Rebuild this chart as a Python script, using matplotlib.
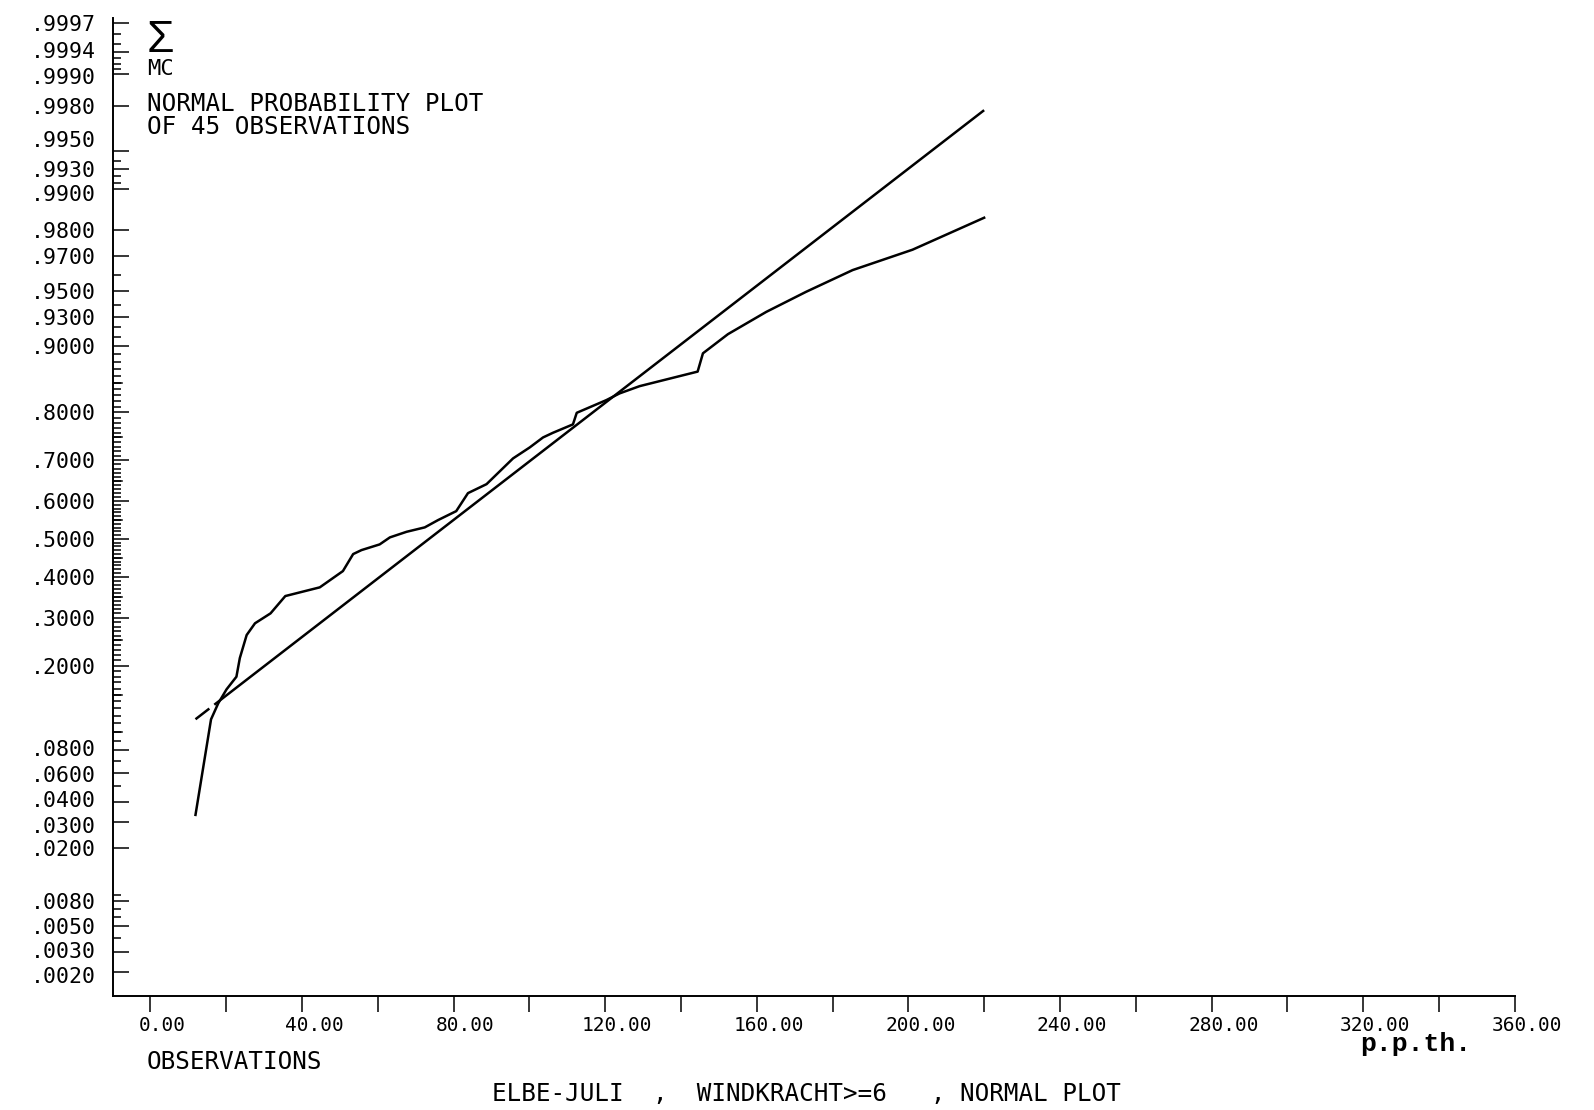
import numpy as np
import matplotlib
matplotlib.use("Agg")
import matplotlib.pyplot as plt
import matplotlib.transforms as mtransforms
from statistics import NormalDist

# cumulative frequency curve (observation value, cumulative probability)
obs_x = [11.9, 16.0, 17.9, 20.1, 22.7, 23.6, 25.4, 27.6, 31.7, 35.6,
         44.7, 50.8, 53.5, 55.7, 60.5, 63.2, 67.6, 72.4, 75.9, 80.7,
         83.8, 88.7, 95.7, 100.1, 103.6, 106.2, 111.5, 112.5, 120.3, 123.8,
         129.1, 144.4, 145.8, 152.4, 162.5, 173.0, 185.3, 201.1, 220.0]
obs_p = [0.0333, 0.1152, 0.1372, 0.1587, 0.1798, 0.2142, 0.2614, 0.2874, 0.3103, 0.3520,
         0.3737, 0.4153, 0.4598, 0.4703, 0.4854, 0.5040, 0.5188, 0.5305, 0.5497, 0.5732,
         0.6195, 0.6420, 0.7037, 0.7284, 0.7499, 0.7596, 0.7767, 0.7990, 0.8218, 0.8332,
         0.8450, 0.8669, 0.8913, 0.9132, 0.9343, 0.9497, 0.9630, 0.9727, 0.9836]

# fitted normal line, end points
fit_x = [11.9, 220.0]
fit_p = [0.1153, 0.99781]

ytick_p = [0.9997, 0.9994, 0.9990, 0.9980, 0.9950, 0.9930, 0.9900, 0.9800, 0.9700,
           0.9500, 0.9300, 0.9000, 0.8000, 0.7000, 0.6000, 0.5000, 0.4000, 0.3000,
           0.2000, 0.0800, 0.0600, 0.0400, 0.0300, 0.0200, 0.0080, 0.0050, 0.0030, 0.0020]
ymid_p = [0.10, 0.15, 0.25, 0.35, 0.45, 0.55, 0.65, 0.75, 0.85]
yminor_p = ([0.9991, 0.9992, 0.9993, 0.9995, 0.9996, 0.991, 0.992, 0.994, 0.91, 0.92, 0.94, 0.96]
            + [round(0.11 + 0.01 * i, 2) for i in range(79)]
            + [0.09, 0.07, 0.05, 0.009, 0.007, 0.006, 0.004])
yminor_p = [p for p in yminor_p if p not in ytick_p and p not in ymid_p]

xtick_vals = [0, 40, 80, 120, 160, 200, 240, 280, 320, 360]
xminor_vals = [20, 60, 100, 140, 180, 220, 260, 300, 340]

nd = NormalDist()
_ppf = np.vectorize(lambda p: nd.inv_cdf(min(max(p, 1e-9), 1 - 1e-9)), otypes=[float])
_cdf = np.vectorize(lambda z: nd.cdf(z), otypes=[float])


def probit(p):
    return _ppf(np.asarray(p, dtype=float))


def inv_probit(z):
    return _cdf(np.asarray(z, dtype=float))


W, H = 1594, 1110
fig = plt.figure(figsize=(W / 100, H / 100), dpi=100)
ax = fig.add_axes([112.5 / W, 1 - 996 / H, (1514.7 - 112.5) / W, (996 - 18.3) / H])
ax.set_yscale("function", functions=(probit, inv_probit))

ax.plot(obs_x, obs_p, color="black", lw=1.8, solid_joinstyle="round")
# plotter pen skips once near the start of the fitted line
ax.plot(fit_x, fit_p, color="black", lw=1.8, dashes=(7, 2.5, 5000, 1))

ax.set_xlim(-10.0, 360)
ax.set_ylim(0.00119, 0.99973)

for s in ["top", "right"]:
    ax.spines[s].set_visible(False)
for s in ["left", "bottom"]:
    ax.spines[s].set_linewidth(1.4)

mono = "DejaVu Sans Mono"

ax.set_xticks(xtick_vals)
ax.set_xticklabels([f"{v:.2f}" for v in xtick_vals], family=mono, fontsize=14)
ax.set_xticks(xminor_vals, minor=True)
ax.tick_params(axis="x", which="both", direction="out", length=11.5, width=1.1, pad=3)
shift = mtransforms.ScaledTranslation(12 / 100, 0, fig.dpi_scale_trans)
for lab in ax.get_xticklabels():
    lab.set_transform(lab.get_transform() + shift)

ax.set_yticks(ytick_p)
ax.set_yticklabels([f"{p:.4f}"[1:] for p in ytick_p], family=mono, fontsize=15.5)
ax.set_yticks(ymid_p + yminor_p, minor=True)
ax.tick_params(axis="y", which="major", direction="in", length=11.5, width=1.1, pad=12)
ax.tick_params(axis="y", which="minor", direction="in", length=6, width=1.1)
# medium-length ticks at the half steps
for p in ymid_p:
    ax.plot([0, 0.0065], [p, p], color="black", lw=1.1,
            transform=ax.get_yaxis_transform(), clip_on=False)

# spread crowded labels apart a little (pixels, + is up)
label_nudge = {0.9994: 2, 0.9990: -2, 0.9950: 12, 0.9900: -4, 0.0800: 2, 0.0600: -1,
               0.0400: 3, 0.0300: -3, 0.0030: 2, 0.0020: -3}
for p, lab in zip(ytick_p, ax.get_yticklabels()):
    dy = label_nudge.get(p, 0)
    if dy:
        lab.set_transform(lab.get_transform()
                          + mtransforms.ScaledTranslation(0, dy / 100, fig.dpi_scale_trans))

fig.text(147 / W, 1 - 40 / H, "\u03a3", fontsize=32, family="Liberation Sans",
         ha="left", va="center")
fig.text(147 / W, 1 - 69 / H, "MC", fontsize=16, family=mono, ha="left", va="center")
fig.text(147 / W, 1 - 104 / H, "NORMAL PROBABILITY PLOT", fontsize=17.5, family=mono,
         ha="left", va="center")
fig.text(147 / W, 1 - 127 / H, "OF 45 OBSERVATIONS", fontsize=17.5, family=mono,
         ha="left", va="center")
fig.text(147 / W, 1 - 1062 / H, "OBSERVATIONS", fontsize=17.5, family=mono,
         ha="left", va="center")
fig.text(492 / W, 1 - 1094 / H, "ELBE-JULI  ,  WINDKRACHT>=6   , NORMAL PLOT",
         fontsize=17.5, family=mono, ha="left", va="center")
fig.text(1360 / W, 1 - 1044 / H, "p.p.th.", fontsize=19, family="Liberation Mono",
         fontweight="bold", ha="left", va="center")

fig.savefig("out.png", dpi=100, facecolor="white")
